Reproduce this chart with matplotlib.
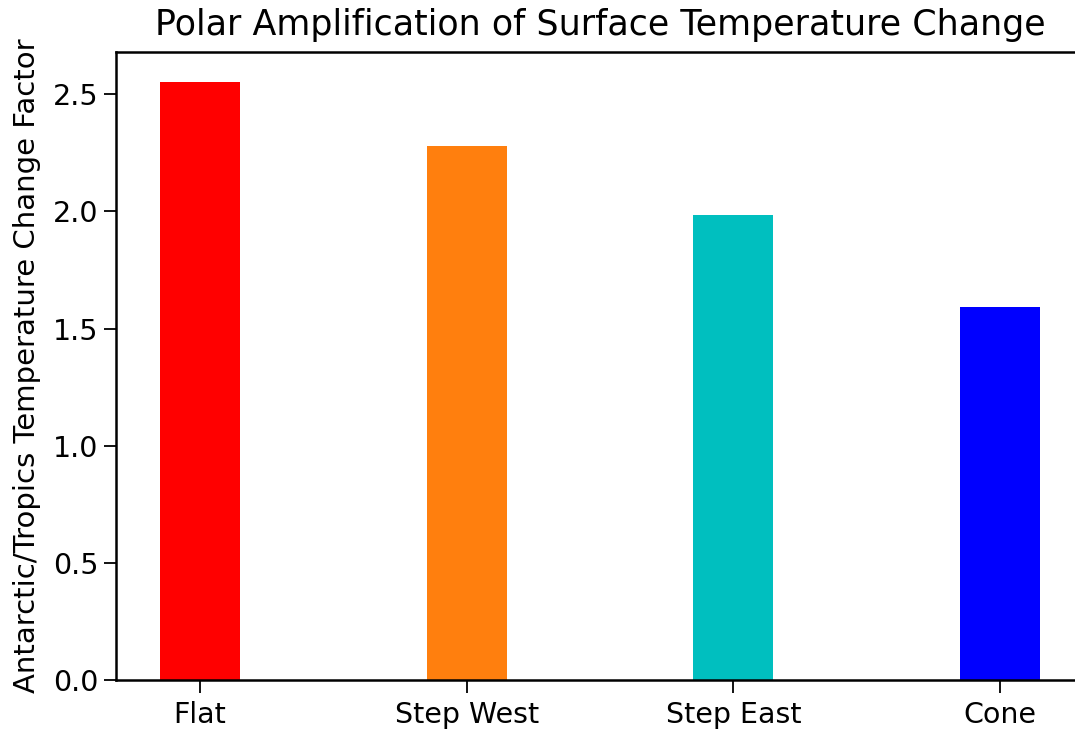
import matplotlib
matplotlib.use("Agg")
import matplotlib.pyplot as plt

categories = ["Flat", "Step West", "Step East", "Cone"]
factors = [2.55, 2.28, 1.985, 1.593]
colors = ["#ff0000", "#ff7f0e", "#00bfbf", "#0000ff"]

W, H = 1075, 732
fig = plt.figure(figsize=(W / 100, H / 100), dpi=100)
# axes box in pixel coordinates (left, top, right, bottom)
l, b, r, t = 116, 52, 1084, 680
ax = fig.add_axes([l / W, 1 - t / H, (r - l) / W, (t - b) / H])

x = list(range(len(categories)))
ax.bar(x, factors, width=0.3, color=colors)
ax.set_xticks(x)
ax.set_xticklabels(categories)
ax.set_xlim(-0.315, 3.315)
ax.set_ylim(0, 2.68)
ax.set_yticks([0.0, 0.5, 1.0, 1.5, 2.0, 2.5])

fs = 20.5
ax.set_title("Polar Amplification of Surface Temperature Change", fontsize=25.1, pad=12)
ax.set_ylabel("Antarctic/Tropics Temperature Change Factor", fontsize=21, labelpad=9)
ax.tick_params(labelsize=fs, length=9, width=1.3)
ax.tick_params(axis="x", pad=6)
for s in ax.spines.values():
    s.set_linewidth(1.8)

fig.savefig("out.png", dpi=100)
